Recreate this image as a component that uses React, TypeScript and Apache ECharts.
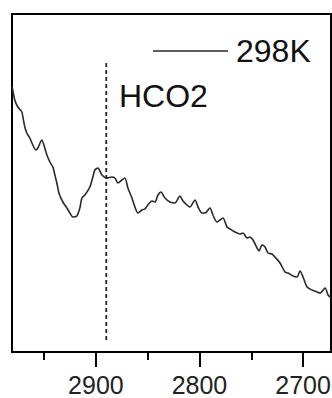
import React, { useEffect, useRef } from "react";
import * as echarts from "echarts";

const wavenumbers = [
  2980.8, 2978.3, 2975.4, 2971.5, 2970.5, 2968.6, 2966.7, 2963.8, 2960.9, 2958.0, 2956.0, 2952.2,
  2950.2, 2947.3, 2944.4, 2941.5, 2939.6, 2937.7, 2935.7, 2931.9, 2928.0, 2925.1, 2922.2, 2918.4,
  2915.5, 2913.5, 2910.6, 2905.8, 2902.9, 2901.0, 2898.1, 2894.2, 2889.4, 2884.5, 2881.6, 2878.7,
  2874.9, 2872.0, 2869.1, 2865.2, 2862.3, 2859.4, 2855.6, 2852.7, 2849.8, 2845.9, 2843.0, 2840.1,
  2837.2, 2833.3, 2828.5, 2823.7, 2818.8, 2815.9, 2812.1, 2809.2, 2804.3, 2801.4, 2797.6, 2794.7,
  2789.9, 2787.0, 2783.1, 2780.2, 2777.3, 2773.4, 2770.5, 2765.7, 2760.9, 2757.9, 2754.1, 2751.2,
  2748.3, 2744.4, 2742.5, 2739.6, 2736.7, 2733.8, 2729.9, 2727.1, 2722.2, 2717.4, 2714.5, 2709.7,
  2705.8, 2702.9, 2700.0, 2696.1, 2691.3, 2686.5, 2683.6, 2678.7, 2675.8, 2673.0,
];
const intensity298K = [
  265, 252, 245, 240, 235, 225, 219, 214, 207, 202, 204, 212,
  207, 197, 190, 185, 177, 169, 159, 150, 144, 139, 135, 136,
  144, 154, 157, 165, 175, 182, 184, 177, 174, 175, 174, 169,
  172, 174, 164, 154, 145, 139, 142, 143, 147, 151, 150, 157,
  160, 154, 150, 149, 156, 151, 147, 145, 152, 145, 139, 139,
  144, 137, 130, 132, 134, 125, 123, 120, 118, 119, 114, 115,
  112, 104, 101, 107, 105, 99, 98, 95, 89, 80, 79, 76,
  75, 81, 75, 65, 62, 60, 59, 64, 57, 54,
];
const markerWavenumber = 2890;
const markerRange = [12, 292];
const majorTicks = [2900, 2800, 2700];
const minorTicks = [2950, 2850, 2750];
const seriesName = "298K";
const annotation = "HCO2";

export default function App() {
  const ref = useRef<HTMLDivElement>(null);
  useEffect(() => {
    document.body.style.margin = "0";
    const chart = echarts.init(ref.current!, null, { renderer: "svg" });
    const font = "'Liberation Sans', Arial, sans-serif";
    chart.setOption({
      animation: false,
      backgroundColor: "#fff",
      grid: {
        left: 12,
        right: 1,
        top: 14,
        bottom: 46,
        show: true,
        borderColor: "#000",
        borderWidth: 2,
        containLabel: false,
        outerBoundsMode: "none",
      },
      legend: {
        data: [{ name: seriesName, icon: "rect" }],
        left: 153,
        top: 35,
        padding: 0,
        itemWidth: 75,
        itemHeight: 1.5,
        textStyle: { fontSize: 32, fontFamily: font, color: "#111", padding: [0, 0, 0, 3], lineHeight: 32 },
      },
      xAxis: [
        {
          type: "value",
          inverse: true,
          min: 2673,
          max: 2981,
          position: "bottom",
          axisLine: { show: true, lineStyle: { color: "#000", width: 2 } },
          axisTick: { show: true, customValues: majorTicks, length: 15, inside: false, lineStyle: { color: "#000", width: 2 } },
          axisLabel: {
            show: true,
            customValues: majorTicks,
            fontSize: 25,
            fontFamily: font,
            color: "#222",
            margin: 20,
            formatter: (v: number) => String(v),
          },
          splitLine: { show: false },
        },
        {
          type: "value",
          inverse: true,
          min: 2673,
          max: 2981,
          position: "bottom",
          axisLine: { show: false },
          axisTick: { show: true, customValues: minorTicks, length: 8, lineStyle: { color: "#000", width: 2 } },
          axisLabel: { show: false },
          splitLine: { show: false },
        },
      ],
      yAxis: {
        type: "value",
        min: 0,
        max: 338,
        show: false,
      },
      graphic: [
        {
          type: "text",
          left: 119,
          top: 80,
          style: { text: annotation, fontSize: 32, fontFamily: font, fill: "#111" },
        },
      ],
      series: [
        {
          name: seriesName,
          type: "line",
          data: wavenumbers.map((w, i) => [w, intensity298K[i]]),
          showSymbol: false,
          symbol: "none",
          smooth: 0.25,
          lineStyle: { color: "#2a2a2a", width: 1.6 },
          itemStyle: { color: "#2a2a2a" },
        },
        {
          name: "marker",
          type: "line",
          data: [
            [markerWavenumber, markerRange[0]],
            [markerWavenumber, markerRange[1]],
          ],
          showSymbol: false,
          symbol: "none",
          lineStyle: { color: "#222", width: 1.8, type: [4, 3] },
        },
      ],
    });
    return () => chart.dispose();
  }, []);
  return <div ref={ref} style={{ width: 332, height: 398 }} />;
}
